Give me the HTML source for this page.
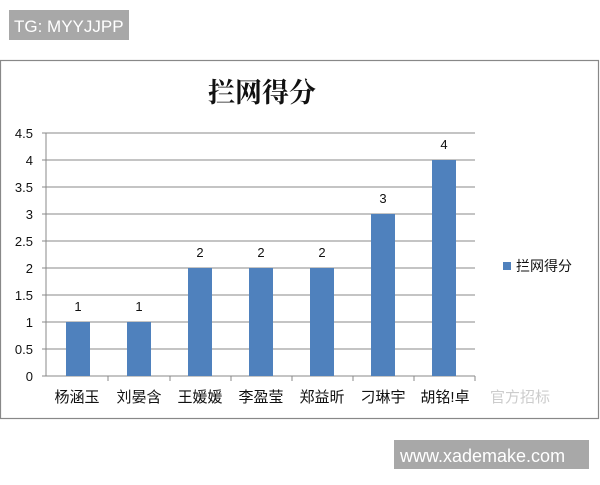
<!DOCTYPE html>
<html><head><meta charset="utf-8"><style>
body{margin:0;width:600px;height:480px;background:#fff;overflow:hidden;font-family:"Liberation Sans","Noto Sans CJK SC",sans-serif}
</style></head><body>
<svg width="600" height="480" xmlns="http://www.w3.org/2000/svg" font-family="Liberation Sans, Noto Sans CJK SC, sans-serif">
<rect x="9" y="10" width="120" height="30" fill="#a8a8a8"/>
<text x="14" y="32" font-size="17" fill="#fff">TG: MYYJJPP</text>
<rect x="0.5" y="60.5" width="598" height="358" fill="#fff" stroke="#888" stroke-width="1.2"/>
<text x="262" y="102" font-size="27" font-weight="bold" text-anchor="middle" fill="#111" font-family="Noto Serif CJK SC, serif">拦网得分</text>
<g stroke="#888" stroke-width="1">
<line x1="46" y1="133" x2="475" y2="133"/><line x1="46" y1="160" x2="475" y2="160"/>
<line x1="46" y1="187" x2="475" y2="187"/><line x1="46" y1="214" x2="475" y2="214"/>
<line x1="46" y1="241" x2="475" y2="241"/><line x1="46" y1="268" x2="475" y2="268"/>
<line x1="46" y1="295" x2="475" y2="295"/><line x1="46" y1="322" x2="475" y2="322"/>
<line x1="46" y1="349" x2="475" y2="349"/><line x1="46" y1="376" x2="475" y2="376"/>
<line x1="46" y1="133" x2="46" y2="376"/>
<line x1="42" y1="133" x2="46" y2="133"/><line x1="42" y1="160" x2="46" y2="160"/><line x1="42" y1="187" x2="46" y2="187"/><line x1="42" y1="214" x2="46" y2="214"/><line x1="42" y1="241" x2="46" y2="241"/><line x1="42" y1="268" x2="46" y2="268"/><line x1="42" y1="295" x2="46" y2="295"/><line x1="42" y1="322" x2="46" y2="322"/><line x1="42" y1="349" x2="46" y2="349"/><line x1="42" y1="376" x2="46" y2="376"/>
<line x1="108" y1="376" x2="108" y2="381"/><line x1="170" y1="376" x2="170" y2="381"/><line x1="231" y1="376" x2="231" y2="381"/><line x1="292" y1="376" x2="292" y2="381"/><line x1="353" y1="376" x2="353" y2="381"/><line x1="414" y1="376" x2="414" y2="381"/><line x1="475" y1="376" x2="475" y2="381"/>
</g>
<g font-size="13" fill="#111" text-anchor="end">
<text x="33" y="138">4.5</text><text x="33" y="165">4</text><text x="33" y="192">3.5</text><text x="33" y="219">3</text><text x="33" y="246">2.5</text><text x="33" y="273">2</text><text x="33" y="300">1.5</text><text x="33" y="327">1</text><text x="33" y="354">0.5</text><text x="33" y="381">0</text>
</g>
<g fill="#4f81bd">
<rect x="66" y="322" width="24" height="54"/><rect x="127" y="322" width="24" height="54"/>
<rect x="188" y="268" width="24" height="108"/><rect x="249" y="268" width="24" height="108"/>
<rect x="310" y="268" width="24" height="108"/><rect x="371" y="214" width="24" height="162"/>
<rect x="432" y="160" width="24" height="216"/>
</g>
<g font-size="13" fill="#111" text-anchor="middle">
<text x="78" y="311">1</text><text x="139" y="311">1</text><text x="200" y="257">2</text><text x="261" y="257">2</text><text x="322" y="257">2</text><text x="383" y="203">3</text><text x="444" y="149">4</text>
</g>
<g font-size="15" fill="#111" text-anchor="middle">
<text x="77" y="402">杨涵玉</text><text x="139" y="402">刘晏含</text><text x="200" y="402">王媛媛</text><text x="261" y="402">李盈莹</text><text x="322" y="402">郑益昕</text><text x="383" y="402">刁琳宇</text><text x="445" y="402">胡铭!卓</text>
</g>
<text x="490" y="402" font-size="15" fill="#ccc">官方招标</text>
<rect x="503" y="262" width="8" height="8" fill="#4f81bd"/>
<text x="516" y="271" font-size="14" fill="#111">拦网得分</text>
<rect x="394" y="440" width="195" height="29" fill="#a8a8a8"/>
<text x="400" y="462" font-size="18" fill="#fff">www.xademake.com</text>
</svg>
</body></html>
